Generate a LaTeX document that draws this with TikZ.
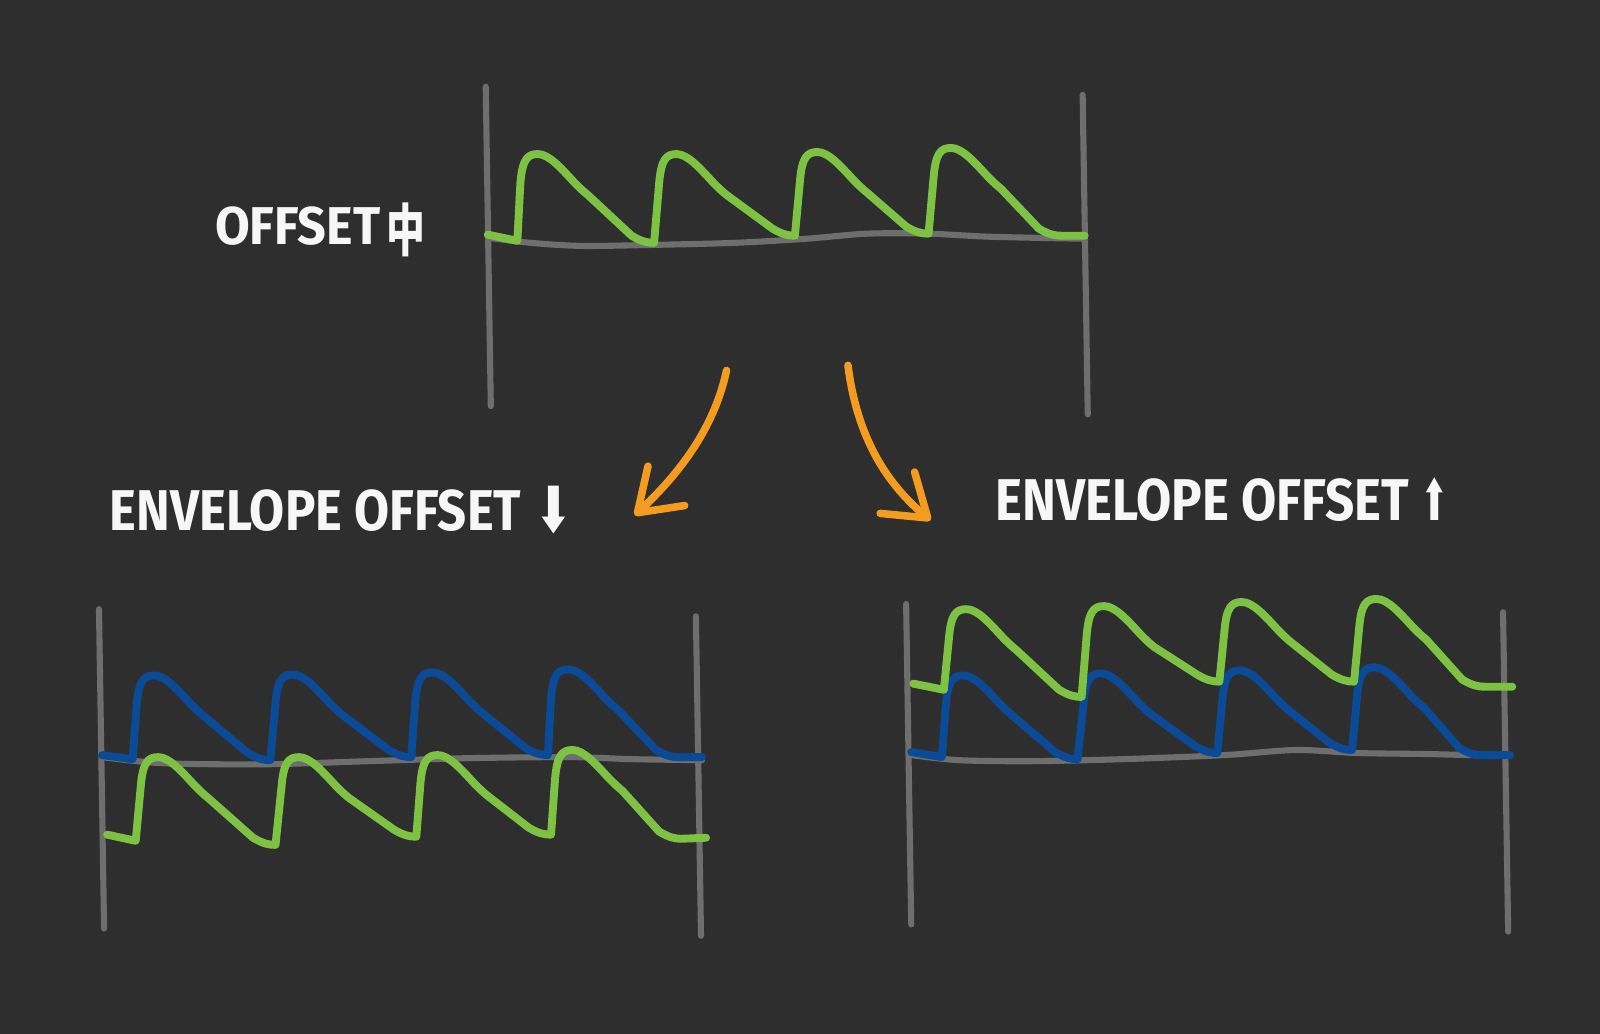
\documentclass[tikz,border=0pt]{standalone}
\usepackage{fontspec}
\usepackage{graphicx}
\setmainfont{Fira Sans}
\newfontfamily\cjkfont{Noto Sans CJK SC}
\newfontfamily\symfont{DejaVu Sans}
\usetikzlibrary{arrows.meta}
\newlength\upx \setlength\upx{0.01cm}
\definecolor{bgc}{HTML}{2E2E2E}
\definecolor{axisc}{HTML}{6E6E6E}
\definecolor{greenc}{HTML}{7DC242}
\definecolor{bluec}{HTML}{0B4A96}
\definecolor{orangec}{HTML}{F39C1F}
\definecolor{textc}{HTML}{F7F7F7}
\tikzset{
  axisline/.style={draw=axisc, line width=1.7pt, line cap=round, line join=round},
  greenwave/.style={draw=greenc, line width=2.2pt, line cap=round, line join=round},
  bluewave/.style={draw=bluec, line width=2.2pt, line cap=round, line join=round},
  orangearrow/.style={draw=orangec, line width=2.1pt, line cap=round, line join=round,
    -{Straight Barb[length=11pt, width=15pt, line width=2.1pt, line cap=round, line join=round]}},
  lbl/.style={text=textc, inner sep=0pt, font=\bfseries},
  pulse/.style n args={4}{insert path={
    -- ({#1+2},{#2+28}) .. controls ({#1+4},{#2+5}) and ({#1+9},{#2}) .. ({#1+19},{#2})
    .. controls ({#1+30},{#2}) and ({#1+42},{#2+14}) .. ({#1+55},{#2+28})
    .. controls ({#1+60},{#2+33}) and ({#1+63},{#2+36}) .. ({#1+68},{#2+40})
    -- ({#3-22},{#4-7}) .. controls ({#3-12},{#4-1}) and ({#3-6},{#4}) .. (#3,#4)}},
}
\begin{document}
\begin{tikzpicture}[x=0.01cm, y=-0.01cm]
\fill[bgc] (0,0) rectangle (1568,1013);
\useasboundingbox (0,0) rectangle (1568,1013);

% ---------- top graph ----------
\draw[axisline] (476,85) -- (481,398);
\draw[axisline] (1061,93) -- (1066,406);
\draw[axisline] plot[smooth] coordinates {(478,233) (520,238) (570,241) (640,240) (720,238) (790,234) (850,229) (910,229) (970,232) (1063,234)};
\draw[greenwave] (478,230) -- (507,236)
  [pulse={508}{151}{641}{238}]
  [pulse={644}{151}{779}{231}]
  [pulse={782}{149}{910}{229}]
  [pulse={913}{145}{1040}{231}] -- (1063,231);

% ---------- bottom-left graph ----------
\draw[axisline] (97,597) -- (102,910);
\draw[axisline] (682,604) -- (687,917);
\draw[axisline] plot[smooth] coordinates {(100,742) (160,748) (260,749) (360,746) (460,743) (560,742) (620,744) (688,745)};
\draw[bluewave] (100,740) -- (130,744)
  [pulse={132}{662}{265}{745}]
  [pulse={268}{661}{403}{742}]
  [pulse={405}{659}{537}{740}]
  [pulse={538}{656}{665}{742}] -- (688,742);
\draw[greenwave] (105,818) -- (133,824)
  [pulse={136}{742}{270}{828}]
  [pulse={274}{742}{408}{820}]
  [pulse={410}{740}{540}{818}]
  [pulse={542}{735}{668}{822}] -- (692,821);

% ---------- bottom-right graph ----------
\draw[axisline] (888,592) -- (893,906);
\draw[axisline] (1473,600) -- (1478,913);
\draw[axisline] plot[smooth] coordinates {(893,740) (940,745) (1010,746) (1100,744) (1200,740) (1270,735) (1330,738) (1400,739) (1477,741)};
\draw[bluewave] (893,737) -- (923,742)
  [pulse={925}{662}{1056}{744}]
  [pulse={1060}{660}{1193}{738}]
  [pulse={1196}{657}{1325}{735}]
  [pulse={1328}{654}{1452}{740}] -- (1480,740);
\draw[greenwave] (895,670) -- (925,676)
  [pulse={928}{597}{1060}{683}]
  [pulse={1063}{594}{1195}{668}]
  [pulse={1198}{590}{1327}{668}]
  [pulse={1330}{587}{1455}{673}] -- (1482,673);

% ---------- labels ----------
\node[lbl, anchor=base west] (lblTop) at (210,240)
  {\resizebox{162\upx}{37\upx}{OFFSET}\kern6\upx\raisebox{-6\upx}{\resizebox*{38\upx}{53\upx}{\cjkfont\bfseries 中}}};
\node[lbl, anchor=base west] (lblDown) at (107,520)
  {\resizebox{403\upx}{40\upx}{ENVELOPE OFFSET}\kern14\upx\raisebox{-2\upx}{\resizebox*{36\upx}{47\upx}{\symfont ⬇}}};
\node[lbl, anchor=base west] (lblUp) at (975,510)
  {\resizebox{405\upx}{41\upx}{ENVELOPE OFFSET}\kern12\upx\raisebox{0\upx}{\resizebox*{26\upx}{42\upx}{\symfont ⬆}}};

% ---------- arrows ----------
\coordinate (aLs) at (712,363);
\coordinate (aLe) at (622,505);
\coordinate (aRs) at (831,358);
\coordinate (aRe) at (912,510);
\draw[orangearrow] (aLs) .. controls (700,420) and (665,465) .. (aLe);
\draw[orangearrow] (aRs) .. controls (840,430) and (870,475) .. (aRe);
\end{tikzpicture}
\end{document}
